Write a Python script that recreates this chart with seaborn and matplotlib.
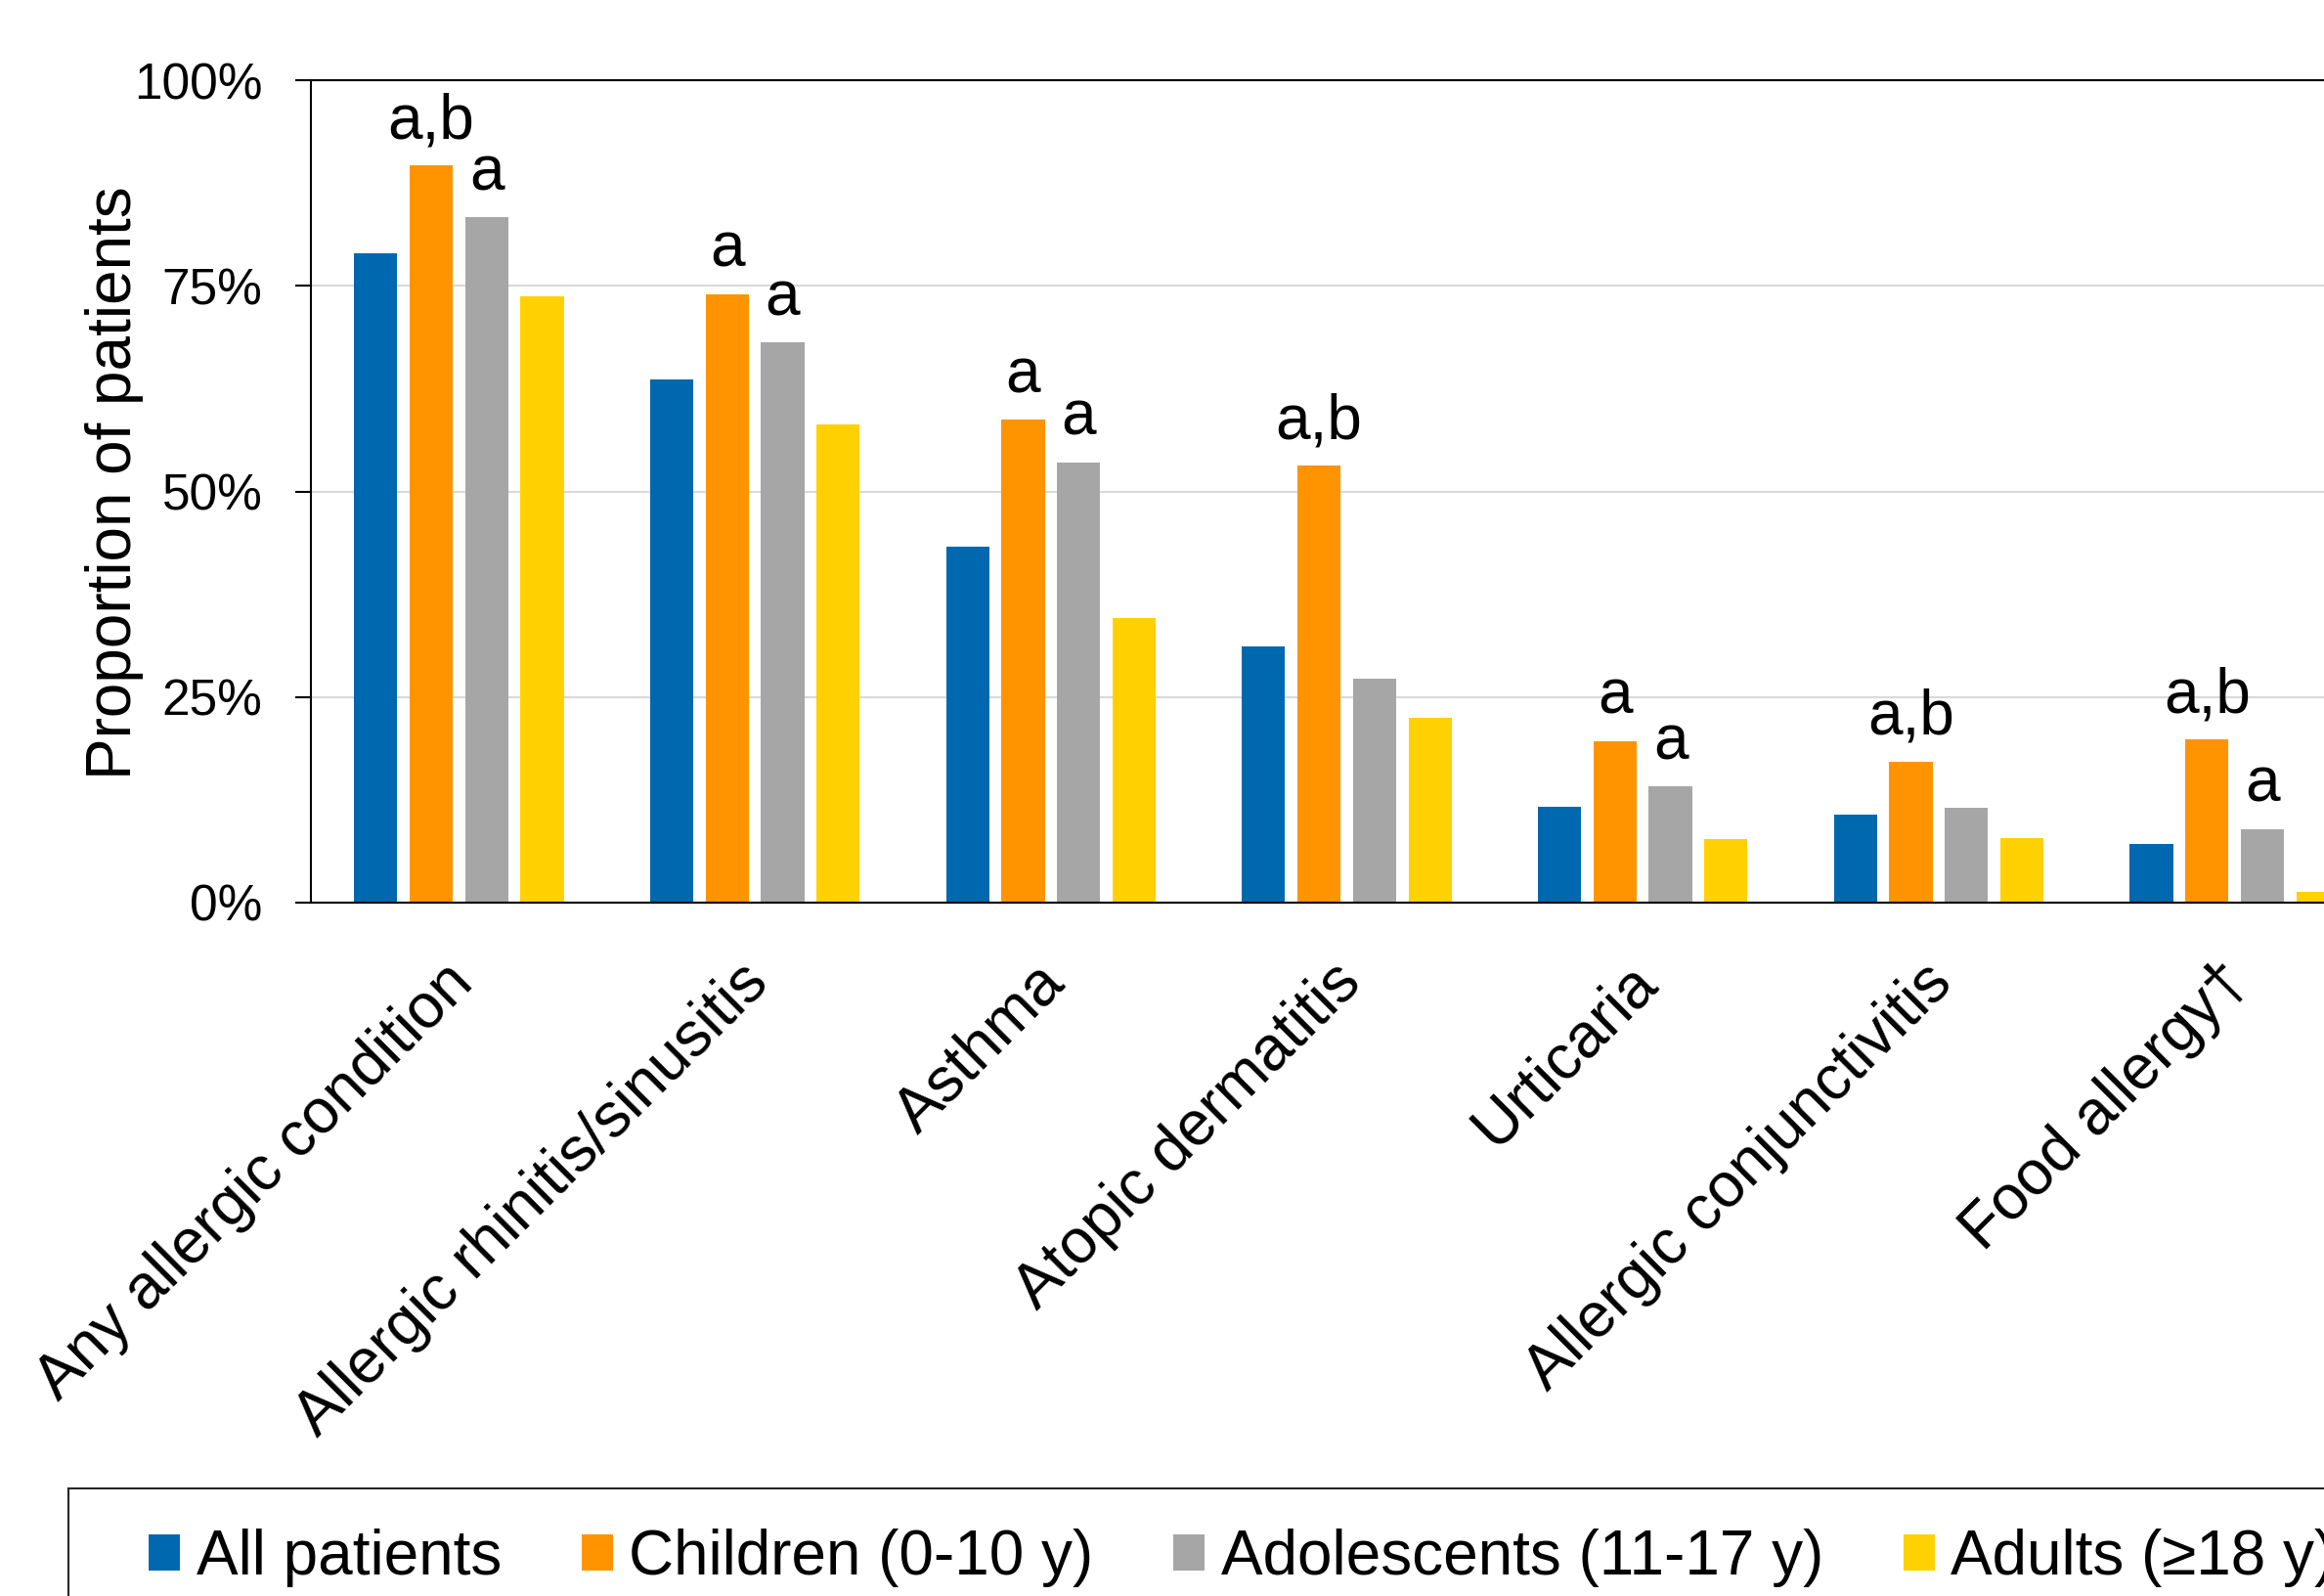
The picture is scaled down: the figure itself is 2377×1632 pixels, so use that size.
import matplotlib
matplotlib.use("Agg")
import matplotlib.pyplot as plt
from matplotlib.patches import Rectangle
from matplotlib.ticker import FuncFormatter
import pandas as pd
import seaborn as sns

# Prevalence of allergic conditions by age group (% of patients)
categories = [
    "Any allergic condition",
    "Allergic rhinitis/sinusitis",
    "Asthma",
    "Atopic dermatitis",
    "Urticaria",
    "Allergic conjunctivitis",
    "Food allergy\u2020",
]
groups = ["All patients", "Children (0-10 y)", "Adolescents (11-17 y)", "Adults (\u226518 y)"]
all_patients = [79.0, 63.6, 43.3, 31.2, 11.6, 10.7, 7.1]
children = [89.6, 74.0, 58.7, 53.1, 19.6, 17.1, 19.8]
adolescents = [83.3, 68.1, 53.5, 27.2, 14.1, 11.5, 8.9]
adults = [73.7, 58.2, 34.6, 22.5, 7.7, 7.9, 1.3]

# Significance markers above the children and adolescent bars
marks_children = ["a,b", "a", "a", "a,b", "a", "a,b", "a,b"]
marks_adolescents = ["a", "a", "a", "", "a", "", "a"]

y_ticks = [0, 25, 50, 75, 100]
colors = ["#0068AF", "#FF9400", "#A6A6A6", "#FFD100"]

rows = []
for g, vals in zip(groups, [all_patients, children, adolescents, adults]):
    for c, v in zip(categories, vals):
        rows.append({"Condition": c, "Group": g, "Value": v})
df = pd.DataFrame(rows)

sns.set_style("white")
plt.rcParams["font.family"] = ["Liberation Sans", "DejaVu Sans"]
plt.rcParams["text.color"] = "black"
plt.rcParams["axes.labelcolor"] = "black"
plt.rcParams["xtick.color"] = "black"
plt.rcParams["ytick.color"] = "black"

W, H = 2377, 1632
fig = plt.figure(figsize=(W / 100, H / 100), dpi=100)
ax_left, ax_right, ax_top, ax_bottom = 318, 2437, 82, 923
ax = fig.add_axes([ax_left / W, 1 - ax_bottom / H, (ax_right - ax_left) / W, (ax_bottom - ax_top) / H])

sns.barplot(
    data=df, x="Condition", y="Value", hue="Group",
    order=categories, hue_order=groups, palette=colors,
    width=0.75, gap=0.22, linewidth=0, saturation=1, ax=ax, zorder=2,
)

handles, labels = ax.get_legend_handles_labels()
if ax.get_legend() is not None:
    ax.get_legend().remove()

ax.set_ylim(0, 100)
ax.set_xlim(-0.5, len(categories) - 0.5)
ax.set_yticks(y_ticks)
ax.yaxis.set_major_formatter(FuncFormatter(lambda v, p: f"{v:.0f}%"))
ax.yaxis.grid(True, color="#D9D9D9", linewidth=1.5, zorder=0)
ax.set_axisbelow(True)

for side in ["left", "bottom", "top"]:
    ax.spines[side].set_visible(True)
    ax.spines[side].set_color("black")
    ax.spines[side].set_linewidth(1.5)
    ax.spines[side].set_zorder(5)
ax.spines["right"].set_visible(False)

ax.tick_params(axis="y", direction="out", length=11.5, width=1.5, colors="black",
               labelsize=37, pad=24, left=True)
ax.set_xticks(range(len(categories)))
ax.set_xticklabels([])
ax.tick_params(axis="x", length=0)

# rotated category names under each group
for i, cat in enumerate(categories):
    ax.annotate(cat, xy=(i, 0), xycoords=("data", "axes fraction"),
                xytext=(-12, -37), textcoords="offset points",
                rotation=45, ha="right", va="top", rotation_mode="anchor",
                fontsize=46, color="black", annotation_clip=False)

ax.set_xlabel("")
ax.set_ylabel("Proportion of patients", fontsize=46, color="black")
ax.yaxis.set_label_coords((147 - ax_left) / (ax_right - ax_left), 0.51)

# significance letters
for container, marks in zip([ax.containers[1], ax.containers[2]], [marks_children, marks_adolescents]):
    for bar, m in zip(container, marks):
        if not m:
            continue
        ax.annotate(m, (bar.get_x() + bar.get_width() / 2, bar.get_height()),
                    xytext=(0, 11), textcoords="offset points",
                    ha="center", va="bottom", fontsize=46, color="black")

# legend with an open-ended frame
fig.legend(handles, labels, ncol=4, loc="center left",
           bbox_to_anchor=(152 / W, 1 - 1593 / H), frameon=False, fontsize=46,
           handlelength=0.5, handleheight=0.5, handletextpad=0.26,
           columnspacing=1.28, borderpad=0, borderaxespad=0, labelcolor="black")
box_top = 1 - 1522 / H
fig.add_artist(Rectangle((70 / W, -0.5), 2.0, box_top + 0.5, transform=fig.transFigure,
                         fill=False, edgecolor="#262626", linewidth=1.5))

fig.savefig("out.png", dpi=100)
